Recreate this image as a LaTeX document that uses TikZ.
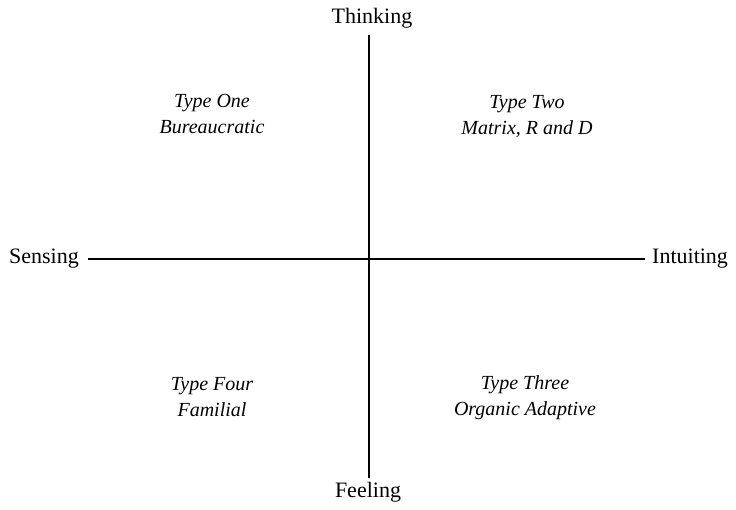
\documentclass[tikz,border=0pt]{standalone}
\usepackage{fontspec}
\newfontfamily\typefont{Liberation Serif}
\begin{document}
\begin{tikzpicture}[x=1pt,y=-1pt,
  axislabel/.style={inner sep=0pt,font=\typefont\fontsize{22}{25}\selectfont},
  typelabel/.style={inner sep=0pt,align=center,font=\typefont\fontsize{20}{26}\selectfont\itshape},
  axisline/.style={line width=1.6pt}]
\useasboundingbox (0,0) rectangle (736,509);
\coordinate (vtop) at (369,35);
\coordinate (vbot) at (369,478);
\coordinate (hl) at (88,259);
\coordinate (hr) at (645,259);
\node[axislabel] (think) at (372,18) {Thinking};
\node[axislabel] (feel) at (368,492) {Feeling};
\node[axislabel,anchor=east] (sense) at (79,259) {Sensing};
\node[axislabel,anchor=west] (intu) at (652,259) {Intuiting};
\draw[axisline] (vtop) -- (vbot);
\draw[axisline] (hl) -- (hr);
\node[typelabel] (t1) at (212,114) {Type One\\Bureaucratic};
\node[typelabel] (t2) at (527,116) {Type Two\\Matrix, R and D};
\node[typelabel] (t4) at (212,397) {Type Four\\Familial};
\node[typelabel] (t3) at (525,398) {Type Three\\Organic Adaptive};
\end{tikzpicture}
\end{document}
